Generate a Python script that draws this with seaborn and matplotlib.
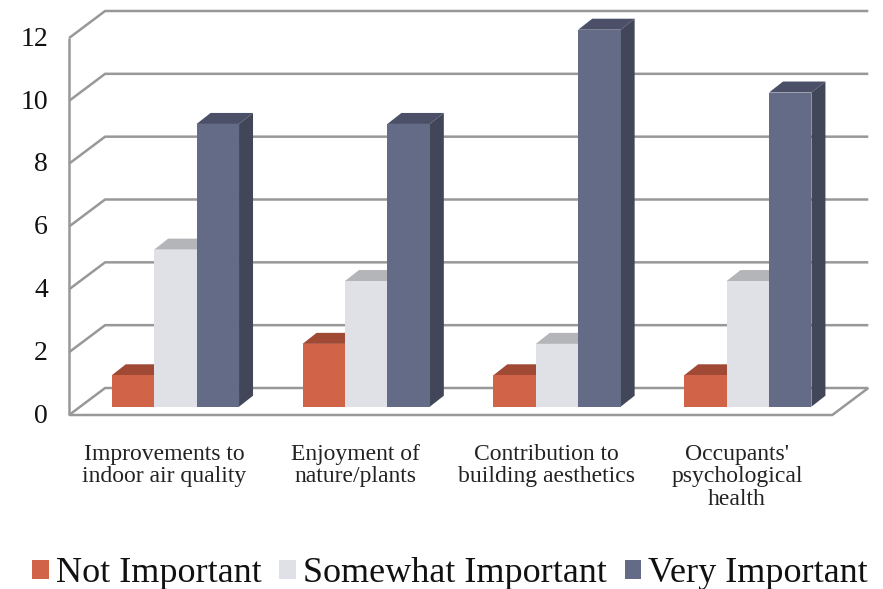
import matplotlib
matplotlib.use('Agg')
import matplotlib.pyplot as plt
from matplotlib.patches import Polygon
from matplotlib.transforms import Affine2D
import pandas as pd
import seaborn as sns

# Data
categories = ["Improvements to\nindoor air quality", "Enjoyment of\nnature/plants",
              "Contribution to\nbuilding aesthetics", "Occupants'\npsychological\nhealth"]
not_important = [1, 2, 1, 1]
somewhat_important = [5, 4, 2, 4]
very_important = [9, 9, 12, 10]
series_names = ["Not Important", "Somewhat Important", "Very Important"]
y_ticks = [0, 2, 4, 6, 8, 10, 12]

# Colours: front, top, side
front_colors = ['#D16349', '#E0E1E7', '#646B86']
top_colors = ['#A04A36', '#B4B5B9', '#4B5068']
side_colors = ['#8A4030', '#A0A1A5', '#424659']
grid_color = '#989898'

sns.set_style("white")
plt.rcParams['font.family'] = ['Liberation Serif', 'DejaVu Serif']

df = pd.DataFrame({
    'category': categories * 3,
    'series': [s for s in series_names for _ in categories],
    'value': not_important + somewhat_important + very_important,
})

W, H = 883, 589
fig = plt.figure(figsize=(W / 100, H / 100), dpi=100)
# the axes is the plane the bar fronts stand in
ax_left, ax_right, ax_top, ax_bottom = 80.0, 843.2, 29.7, 406.7
ax = fig.add_axes([ax_left / W, 1 - ax_bottom / H, (ax_right - ax_left) / W, (ax_bottom - ax_top) / H])

sns.barplot(data=df, x='category', y='value', hue='series', palette=front_colors,
            width=0.667, gap=0, linewidth=0, saturation=1, ax=ax, zorder=4)
ax.set_xlim(-0.5, 3.5)
ax.set_ylim(0, 12)
ax.set_xlabel('')
ax.set_ylabel('')
sns.despine(ax=ax, left=True, bottom=True)
ax.patch.set_alpha(0)

px_x = (ax_right - ax_left) / 4
px_y = (ax_bottom - ax_top) / 12

# depth of bars and walls, in pixels
bar_dx, bar_dy = 14 / px_x, 11 / px_y
front_dx, front_dy = -10.9 / px_x, -8.3 / px_y
back_dx, back_dy = 25.1 / px_x, 18.7 / px_y

# 3d look of the bars
for cont, top_c, side_c in zip(ax.containers, top_colors, side_colors):
    for bar in cont:
        x0, x1, h = bar.get_x(), bar.get_x() + bar.get_width(), bar.get_height()
        ax.add_patch(Polygon([(x0, h), (x0 + bar_dx, h + bar_dy), (x1 + bar_dx, h + bar_dy), (x1, h)],
                             facecolor=top_c, edgecolor='none', zorder=3, clip_on=False))
        ax.add_patch(Polygon([(x1, 0), (x1, h), (x1 + bar_dx, h + bar_dy), (x1 + bar_dx, bar_dy)],
                             facecolor=side_c, edgecolor='none', zorder=3, clip_on=False))

# walls and floor
x_front_l, x_front_r = -0.5 + front_dx, 3.5 + front_dx
x_back_l, x_back_r = -0.5 + back_dx, 3.5 + back_dx
line_kw = dict(color=grid_color, lw=1.8, clip_on=False, zorder=1, solid_capstyle='butt')
for t in y_ticks:
    ax.plot([x_front_l, x_back_l, x_back_r], [t + front_dy, t + back_dy, t + back_dy], **line_kw)
ax.plot([x_front_l, x_front_l], [front_dy, 12 + front_dy], **line_kw)
ax.plot([x_front_l, x_front_r, x_back_r], [front_dy, front_dy, back_dy], **line_kw)

# tick labels sit on the front plane
ax.set_yticks(y_ticks)
ax.set_yticklabels([str(t) for t in y_ticks], fontsize=20, color='#111111')
ax.tick_params(axis='y', length=0, pad=23)
ax.tick_params(axis='x', length=0, pad=26.5)
ax.set_xticks(range(4))
ax.set_xticklabels(categories, fontsize=17, color='#222222', linespacing=1.1, va='top')
shift_y = Affine2D().translate(0, -6.5)
shift_x = Affine2D().translate(-10.9, 0)
for lab in ax.get_yticklabels():
    lab.set_transform(lab.get_transform() + shift_y)
for lab in ax.get_xticklabels():
    lab.set_transform(lab.get_transform() + shift_x)

# Legend
sns.move_legend(ax, loc='center', bbox_to_anchor=(450 / W, 1 - 574 / H), bbox_transform=fig.transFigure,
                ncol=3, frameon=False, title=None, fontsize=26, handlelength=0.46, handleheight=0.46,
                handletextpad=0.19, columnspacing=0.5, borderpad=0, borderaxespad=0)
for t in ax.get_legend().get_texts():
    t.set_color('#111111')

plt.savefig('out.png', dpi=100)
plt.close()
